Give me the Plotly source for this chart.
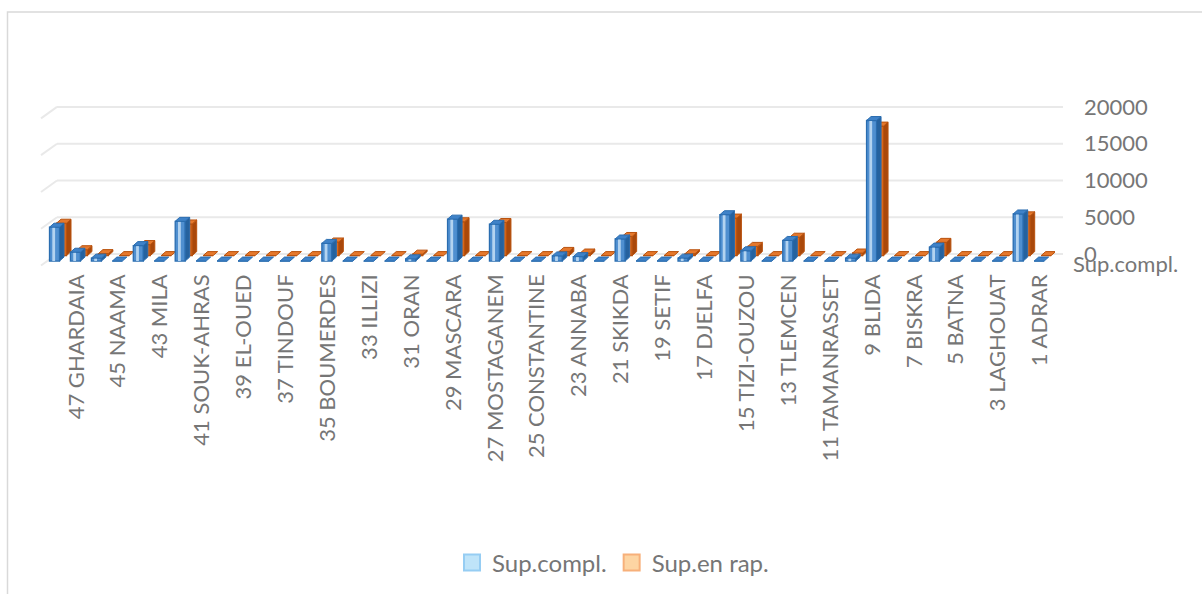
import plotly.graph_objects as go

# Wilayas in plotting order (48 down to 1)
wilayas = [
    "48 RELIZANE", "47 GHARDAIA", "46 AIN-TEMOUCHENT", "45 NAAMA", "44 AIN-DEFLA",
    "43 MILA", "42 TIPAZA", "41 SOUK-AHRAS", "40 KHENCHELA", "39 EL-OUED",
    "38 TISSEMSILT", "37 TINDOUF", "36 EL-TARF", "35 BOUMERDES", "34 B.B.ARRERIDJ",
    "33 ILLIZI", "32 EL-BAYADH", "31 ORAN", "30 OUARGLA", "29 MASCARA",
    "28 M'SILA", "27 MOSTAGANEM", "26 MEDEA", "25 CONSTANTINE", "24 GUELMA",
    "23 ANNABA", "22 S.B.ABBES", "21 SKIKDA", "20 SAIDA", "19 SETIF",
    "18 JIJEL", "17 DJELFA", "16 ALGER", "15 TIZI-OUZOU", "14 TIARET",
    "13 TLEMCEN", "12 TEBESSA", "11 TAMANRASSET", "10 BOUIRA", "9 BLIDA",
    "8 BECHAR", "7 BISKRA", "6 BEJAIA", "5 BATNA", "4 O.E.BOUAGHI",
    "3 LAGHOUAT", "2 CHLEF", "1 ADRAR",
]

sup_compl = [
    4600, 1200, 400, 0, 2100, 0, 5400, 0, 0, 0,
    0, 0, 0, 2400, 0, 0, 0, 300, 0, 5700,
    0, 5000, 0, 0, 700, 600, 0, 3000, 0, 0,
    400, 0, 6300, 1400, 0, 2800, 0, 0, 400, 19100,
    0, 0, 1900, 0, 0, 0, 6400, 0,
]

sup_en_rap = [
    4400, 800, 270, 0, 1500, 0, 4300, 0, 0, 0,
    0, 0, 0, 1850, 0, 0, 0, 200, 0, 4600,
    0, 4500, 0, 0, 570, 350, 0, 2600, 0, 0,
    250, 0, 5100, 1250, 0, 2500, 0, 0, 350, 17600,
    0, 0, 1800, 0, 0, 0, 5400, 0,
]

value_ticks = [0, 5000, 10000, 15000, 20000]
value_tick_labels = [str(t) for t in value_ticks]
series_names = ["Sup.compl.", "Sup.en rap."]

# ---- canvas geometry (pixels) ----
W, H = 1202, 594
ML, MR, MT, MB = 43, 147, 95, 324
PLOT_W = W - ML - MR
PLOT_H = H - MT - MB
PX_PER_CAT = 20.95       # horizontal pixels per category
PX_PER_UNIT = 0.0074     # vertical pixels per hectare
FIRST_CAT_PX = 55.5      # pixel x of first category centre

def cat(px):
    return px / PX_PER_CAT

def val(px):
    return px / PX_PER_UNIT

def paper_x(px):
    return (px - ML) / PLOT_W

def paper_y(py):
    return (MT + PLOT_H - py) / PLOT_H

def y_range(zero_px):
    # range of a value axis whose zero sits at pixel row zero_px
    return [val(zero_px - (MT + PLOT_H)), val(zero_px - MT)]

x_range = [cat(ML - FIRST_CAT_PX), cat(ML + PLOT_W - FIRST_CAT_PX)]

FONT = "Lato"
GREY = "#767676"

face_w = cat(10)
dx = cat(4.5)
dy = val(4)

# back row first (orange), front row last (blue)
rows = [
    dict(values=sup_en_rap, name=series_names[1], yaxis="y2", shift=cat(6),
         front="#dc6a1c", edge="#b9520e", stripe="#f4a66a", top="#e5782c", side="#a9480b"),
    dict(values=sup_compl, name=series_names[0], yaxis="y3", shift=cat(-1),
         front="#4f8fd0", edge="#2a6db0", stripe="#b3d3f0", top="#3f82c8", side="#25629f"),
]

fig = go.Figure()

idx = list(range(len(wilayas)))
for row in rows:
    xs = [i + row["shift"] for i in idx]
    vals = row["values"]
    fig.add_trace(go.Bar(
        x=xs, y=vals, width=face_w, xaxis="x", yaxis=row["yaxis"],
        marker=dict(color=row["front"], line=dict(color=row["edge"], width=1.3)),
        customdata=wilayas, hovertemplate="%{customdata}<br>" + row["name"] + ": %{y}<extra></extra>",
        showlegend=False,
    ))
    fig.add_trace(go.Bar(
        x=[x - face_w * 0.08 for x in xs], y=vals, width=face_w * 0.28,
        xaxis="x", yaxis=row["yaxis"], marker=dict(color=row["stripe"], line=dict(width=0)),
        hoverinfo="skip", showlegend=False,
    ))
    side_x, side_y, top_x, top_y = [], [], [], []
    for x, v in zip(xs, vals):
        xl, xr = x - face_w / 2, x + face_w / 2
        if v > 0:
            side_x += [xr, xr + dx, xr + dx, xr, xr, None]
            side_y += [0, dy, v + dy, v, 0, None]
        top_x += [xl, xr, xr + dx, xl + dx, xl, None]
        top_y += [v, v, v + dy, v + dy, v, None]
    fig.add_trace(go.Scatter(
        x=side_x, y=side_y, xaxis="x", yaxis=row["yaxis"], mode="lines",
        fill="toself", fillcolor=row["side"], line=dict(color=row["edge"], width=1),
        hoverinfo="skip", showlegend=False,
    ))
    fig.add_trace(go.Scatter(
        x=top_x, y=top_y, xaxis="x", yaxis=row["yaxis"], mode="lines",
        fill="toself", fillcolor=row["top"], line=dict(color=row["edge"], width=1),
        hoverinfo="skip", showlegend=False,
    ))

# legend keys
legend_style = {
    series_names[0]: ("#bfe4f9", "#96cdf3"),
    series_names[1]: ("#fdd5a3", "#f7b07a"),
}
for name in series_names:
    fill, line = legend_style[name]
    fig.add_trace(go.Scatter(
        x=[None], y=[None], mode="markers", name=name,
        marker=dict(symbol="square", size=16, color=fill, line=dict(color=line, width=2)),
    ))

# back-wall gridlines with their slanted floor edge
shapes = []
for t in value_ticks:
    shapes.append(dict(type="line", xref="paper", yref="y",
                       x0=paper_x(57), x1=paper_x(1063), y0=t, y1=t,
                       line=dict(color="#e9e9e9", width=2), layer="below"))
    shapes.append(dict(type="line", xref="paper", yref="y",
                       x0=paper_x(41), x1=paper_x(57), y0=t - val(11.5), y1=t,
                       line=dict(color="#e9e9e9", width=2), layer="below"))
# chart-area border
shapes.append(dict(type="rect", xref="paper", yref="paper",
                   x0=paper_x(7.5), x1=paper_x(1230), y0=paper_y(640), y1=paper_y(11.5),
                   line=dict(color="#d9d9d9", width=1.5), fillcolor="rgba(0,0,0,0)", layer="below"))

fig.update_layout(
    width=W, height=H,
    margin=dict(l=ML, r=MR, t=MT, b=MB),
    paper_bgcolor="white", plot_bgcolor="rgba(0,0,0,0)",
    barmode="overlay",
    font=dict(family=FONT, color=GREY, size=22),
    xaxis=dict(range=x_range, tickmode="array",
               tickvals=idx[1::2], ticktext=wilayas[1::2], tickangle=-90,
               showgrid=False, zeroline=False, showline=False, ticks="",
               ticklabelstandoff=0, tickfont=dict(family=FONT, color=GREY, size=22)),
    yaxis=dict(range=y_range(255), side="right", tickmode="array",
               tickvals=value_ticks, ticktext=value_tick_labels,
               showgrid=False, zeroline=False, showline=False, ticks="",
               ticklabelstandoff=28, tickfont=dict(family=FONT, color=GREY, size=22)),
    yaxis2=dict(range=y_range(256.5), overlaying="y", visible=False),
    yaxis3=dict(range=y_range(262), overlaying="y", visible=False),
    legend=dict(orientation="h", x=paper_x(613), xanchor="center",
                y=paper_y(563), yanchor="middle",
                font=dict(family=FONT, color=GREY, size=24), itemwidth=30),
    shapes=shapes,
    annotations=[dict(text=series_names[0], xref="paper", yref="y",
                      x=paper_x(1071), y=val(255 - 264), xanchor="left", yanchor="middle",
                      showarrow=False, font=dict(family=FONT, color=GREY, size=22))],
)

fig.write_html("out.html")
